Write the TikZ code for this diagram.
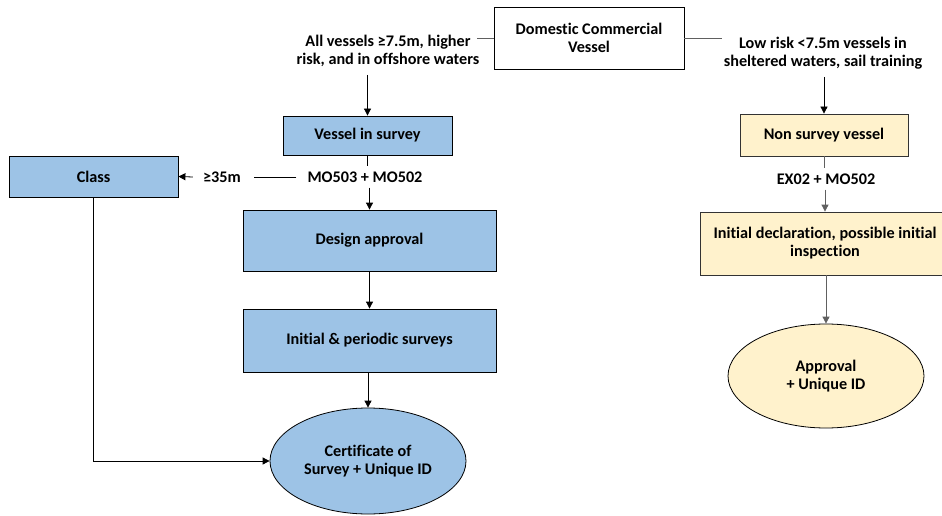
\documentclass[tikz,border=0pt]{standalone}
\usepackage{fontspec}
\setmainfont{Carlito}[Ligatures=NoCommon]
\usetikzlibrary{arrows.meta,shapes.geometric}
\definecolor{bluefill}{HTML}{9DC3E6}
\definecolor{yelfill}{HTML}{FFF2CC}
\definecolor{linegray}{HTML}{606060}
\begin{document}
\begin{tikzpicture}[x=1pt,y=-1pt,
  every node/.style={font=\fontsize{16.2}{18}\selectfont\bfseries, align=center, inner sep=0pt},
  boxw/.style={draw=black, line width=0.8pt, fill=white, minimum width=190pt, minimum height=62pt},
  boxb/.style={draw=black, line width=0.8pt, fill=bluefill},
  boxy/.style={draw=black!80, line width=0.8pt, fill=yelfill},
  ellb/.style={ellipse, draw=black, line width=0.8pt, fill=bluefill},
  elly/.style={ellipse, draw=black, line width=0.8pt, fill=yelfill},
  lbl/.style={},
  conn/.style={draw=black, line width=0.8pt},
  arr/.style={conn, -{Triangle[length=7pt,width=7pt]}}
]
\useasboundingbox (0,0) rectangle (942,516);
% top
\node[boxw] (dom) at (589,38) {Domestic Commercial\\Vessel};
\node[lbl] (lblA) at (388,51) {All vessels ≥7.5m, higher\\risk, and in offshore waters};
\node[lbl] (lblB) at (823,53) {Low risk <7.5m vessels in\\sheltered waters, sail training};
\coordinate (cL) at (477,38);
\coordinate (cR) at (722,38);
\draw[conn, draw=linegray] (dom.west) -- (cL);
\draw[conn, draw=linegray] (dom.east) -- (cR);
% left branch
\node[boxb, minimum width=169pt, minimum height=39pt] (vis) at (367.5,135.5) {Vessel in survey};
\coordinate (aA) at (367.5,75);
\draw[arr] (aA) -- (vis.north);
\node[lbl] (mo) at (365,177) {MO503 + MO502};
\node[boxb, minimum width=253pt, minimum height=61pt] (des) at (369.5,240.5) {Design approval};
\node[boxb, minimum width=253pt, minimum height=63pt] (ips) at (369.5,340.5) {Initial \& periodic surveys};
\node[ellb, minimum width=196pt, minimum height=106pt] (cert) at (368,461) {Certificate of\\Survey + Unique ID};
\node[boxb, minimum width=169pt, minimum height=41pt] (cls) at (93.5,176.5) {Class};
\node[lbl] (ge) at (222,177) {≥35m};
\draw[conn] (vis.south) -- ([yshift=5pt]mo.north -| vis.south);
\draw[arr] ([yshift=-5pt]mo.south -| des.north) -- (des.north);
\draw[arr] (des.south) -- (ips.north);
\draw[arr] (ips.south -| cert.north) -- (cert.north);
\draw[conn] ([xshift=-11pt]mo.west) -- ([xshift=13pt]ge.east);
\draw[arr] ([xshift=-10pt]ge.west) -- (cls.east);
\draw[arr] (cls.south) |- (cert.west);
% right branch
\node[boxy, minimum width=168pt, minimum height=42pt] (nsv) at (824,135) {Non survey vessel};
\coordinate (aB) at (824,77);
\draw[arr] (aB) -- (nsv.north);
\node[lbl] (ex) at (826,179) {EX02 + MO502};
\node[boxy, minimum width=250pt, minimum height=63pt] (idec) at (825,243.5) {Initial declaration, possible initial\\inspection};
\node[elly, minimum width=196pt, minimum height=104pt] (appr) at (826,376) {Approval\\+ Unique ID};
\draw[conn, draw=linegray] (nsv.south) -- ([yshift=5pt]ex.north -| nsv.south);
\draw[arr, draw=linegray] ([yshift=-5pt]ex.south -| idec.north) -- (idec.north);
\draw[arr, draw=linegray] (idec.south -| appr.north) -- (appr.north);
\end{tikzpicture}
\end{document}
